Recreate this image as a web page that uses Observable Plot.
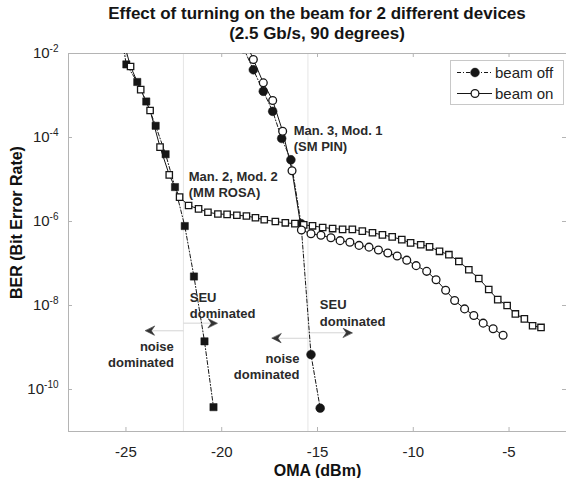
<!DOCTYPE html>
<html>
<head>
<meta charset="utf-8">
<script src="https://cdn.jsdelivr.net/npm/d3@7"></script>
<script src="https://cdn.jsdelivr.net/npm/@observablehq/plot@0.6"></script>
<style>
  html, body { margin: 0; padding: 0; background: #fff; }
  #wrap { position: relative; width: 566px; height: 478px; overflow: hidden; font-family: "Liberation Sans", Arial, sans-serif; }
  #title { height: 44px; box-sizing: border-box; padding: 4px 0 0 68px; text-align: center; font-weight: bold; font-size: 17px; line-height: 20px; color: #151515; white-space: nowrap; }
  #legend { position: absolute; left: 450px; top: 60px; }
</style>
</head>
<body>
<div id="wrap">
  <div id="title">Effect of turning on the beam for 2 different devices<br>(2.5 Gb/s, 90 degrees)</div>
  <div id="chart"></div>
  <svg id="legend" width="114" height="45"></svg>
</div>
<script>
// Axis ticks
const xTicks = [-25, -20, -15, -10, -5];
const yTicks = [1e-2, 1e-4, 1e-6, 1e-8, 1e-10];
const seriesNames = ["beam off", "beam on"];

// Man. 2, Mod. 2 (MM ROSA): OMA (dBm) and BER
const man2OffOMA = [-25.2, -24.98, -24.41, -23.94, -23.45, -22.93, -22.44, -21.93, -21.45, -20.90, -20.43];
const man2OffBER = [2.0e-2, 5.5e-3, 2.1e-3, 7.2e-4, 1.9e-4, 4.0e-5, 6.6e-6, 7.8e-7, 4.9e-8, 1.4e-9, 3.8e-11];

const man2OnOMA = [-25.2, -24.76, -24.23, -23.74, -23.22, -22.74, -22.20, -21.73, -21.21, -20.72, -20.20,
  -19.72, -19.21, -18.71, -18.24, -17.78, -17.20, -16.68, -16.18, -15.72, -15.26,
  -14.73, -14.21, -13.69, -13.18, -12.66, -12.13, -11.61, -11.10, -10.60, -10.14,
  -9.61, -9.15, -8.63, -8.14, -7.62, -7.10, -6.58, -6.06, -5.59, -5.10,
  -4.67, -4.20, -3.77, -3.33];
const man2OnBER = [2.5e-2, 4.9e-3, 1.38e-3, 4.4e-4, 5.9e-5, 1.29e-5, 3.8e-6, 2.4e-6, 2.0e-6, 1.66e-6, 1.51e-6,
  1.48e-6, 1.41e-6, 1.35e-6, 1.23e-6, 1.10e-6, 1.0e-6, 9.3e-7, 8.9e-7, 8.3e-7, 7.9e-7,
  7.2e-7, 6.8e-7, 6.5e-7, 6.5e-7, 5.9e-7, 5.4e-7, 4.8e-7, 4.3e-7, 3.7e-7, 3.1e-7,
  2.8e-7, 2.5e-7, 1.95e-7, 1.62e-7, 1.12e-7, 7.1e-8, 4.4e-8, 2.4e-8, 1.38e-8, 1.0e-8,
  6.3e-9, 4.8e-9, 3.3e-9, 3.0e-9];

// Man. 3, Mod. 1 (SM PIN): OMA (dBm) and BER
const man3OffOMA = [-18.85, -18.35, -17.83, -17.34, -16.87, -16.39, -15.86, -15.34, -14.86];
const man3OffBER = [1.3e-2, 4.1e-3, 1.26e-3, 4.2e-4, 9.5e-5, 2.95e-5, 8.9e-7, 6.8e-10, 3.6e-11];

const man3OnOMA = [-18.85, -18.35, -17.83, -17.34, -16.82, -16.33, -15.84, -15.34, -14.82, -14.30, -13.82,
  -13.31, -12.83, -12.31, -11.82, -11.33, -10.84, -10.34, -9.85, -9.30, -8.81,
  -8.31, -7.84, -7.32, -6.84, -6.35, -5.83, -5.31];
const man3OnBER = [2.5e-2, 7.2e-3, 2.0e-3, 7.6e-4, 1.41e-4, 1.62e-5, 6.3e-7, 5.1e-7, 4.7e-7, 4.1e-7, 3.5e-7,
  3.2e-7, 2.7e-7, 2.45e-7, 2.1e-7, 1.78e-7, 1.51e-7, 1.2e-7, 8.9e-8, 6.5e-8, 4.1e-8,
  2.3e-8, 1.32e-8, 8.3e-9, 5.8e-9, 3.8e-9, 2.8e-9, 1.95e-9];

// Noise / SEU boundaries (OMA, dBm)
const boundaryOMA = [-22, -15.5];

// Text notes
const noteText = ["Man. 3, Mod. 1\n(SM PIN)", "Man. 2, Mod. 2\n(MM ROSA)", "SEU\ndominated", "noise\ndominated", "SEU\ndominated", "noise\ndominated"];
const noteOMA = [-16.24, -21.72, -21.67, -22.50, -14.88, -15.94];
const noteBER = [9.8e-5, 7.9e-6, 1.02e-8, 7.2e-10, 6.9e-9, 3.6e-10];
const noteAnchor = ["start", "start", "start", "end", "start", "end"];

// Arrows pointing away from each boundary
const arrowFrom = [-22, -22, -15.5, -15.5];
const arrowTo = [-23.98, -20.24, -17.37, -13.19];
const arrowBER = [2.5e-9, 3.8e-9, 1.66e-9, 2.24e-9];

const rows = (xs, ys) => xs.map((x, i) => ({x, y: ys[i]}));
const man2Off = rows(man2OffOMA, man2OffBER);
const man2On = rows(man2OnOMA, man2OnBER);
const man3Off = rows(man3OffOMA, man3OffBER);
const man3On = rows(man3OnOMA, man3OnBER);
const notes = noteText.map((t, i) => ({t, x: noteOMA[i], y: noteBER[i], a: noteAnchor[i]}));
const arrows = arrowFrom.map((x1, i) => ({x1, x2: arrowTo[i], y: arrowBER[i]}));

const ink = "#161616";
const dashDot = "4,2,1,2";
const W = 566, H = 434, mL = 68, mR = 0, mT = 9, mB = 47;
const innerW = W - mL - mR, innerH = H - mT - mB;

// filled chevron head drawn pointing up, tip at (0, -l)
const chevron = {
  draw(ctx, l) {
    ctx.moveTo(0, -l);
    ctx.lineTo(-l * 0.5, 0);
    ctx.lineTo(0, -l * 0.35);
    ctx.lineTo(l * 0.5, 0);
    ctx.closePath();
  }
};

const textStyle = {fontWeight: "bold", fontSize: 13, fill: "#2a2a2a", lineHeight: 1.25};

const chart = Plot.plot({
  width: W, height: H,
  marginLeft: mL, marginRight: mR, marginTop: mT, marginBottom: mB,
  style: {fontFamily: "Liberation Sans, Arial, sans-serif", fontSize: "15px", color: "#222", background: "white"},
  x: {domain: [-28, -2], label: null},
  y: {type: "log", domain: [1e-11, 1e-2], label: null},
  marks: [
    Plot.ruleX(boundaryOMA, {stroke: "#e6e6e6", strokeWidth: 1}),
    Plot.frame({stroke: "#b4b4b4"}),
    Plot.tickX(xTicks, {x: d => d, insetTop: innerH - 4, stroke: "#b4b4b4"}),
    Plot.tickX(xTicks, {x: d => d, insetBottom: innerH - 4, stroke: "#b4b4b4"}),
    Plot.tickY(yTicks, {y: d => d, insetRight: innerW - 4, stroke: "#b4b4b4"}),
    Plot.tickY(yTicks, {y: d => d, insetLeft: innerW - 4, stroke: "#b4b4b4"}),
    Plot.axisX({ticks: xTicks, tickSize: 0, tickPadding: 15, tickFormat: d => String(d), fontSize: 15, label: null, fill: "#222"}),
    Plot.axisY({ticks: yTicks, tickSize: 0, tickPadding: 10, tickFormat: d => "10^" + Math.round(Math.log10(d)), fontSize: 15, label: null, fill: "#222"}),
    Plot.text(["OMA (dBm)"], {frameAnchor: "bottom", text: d => d, dy: 39, lineAnchor: "middle", textAnchor: "middle", fontWeight: "bold", fontSize: 16, fill: "#111"}),
    Plot.text(["BER (Bit Error Rate)"], {frameAnchor: "left", text: d => d, rotate: -90, dx: -52, dy: -20, textAnchor: "middle", lineAnchor: "middle", fontWeight: "bold", fontSize: 16, fill: "#111"}),

    // boundary arrows
    Plot.link(arrows, {x1: "x1", x2: "x2", y1: "y", y2: "y", stroke: "#d4d4d4", strokeWidth: 1}),
    Plot.vector(arrows, {x: "x2", y: "y", rotate: d => d.x2 < d.x1 ? -90 : 90, length: 9, anchor: "end", shape: chevron, fill: "#333", stroke: "#333", strokeWidth: 0.6}),

    // curves
    Plot.line(man2Off, {x: "x", y: "y", stroke: ink, strokeWidth: 1, strokeDasharray: dashDot, clip: true}),
    Plot.line(man3Off, {x: "x", y: "y", stroke: ink, strokeWidth: 1, strokeDasharray: dashDot, clip: true}),
    Plot.line(man2On, {x: "x", y: "y", stroke: ink, strokeWidth: 1, clip: true}),
    Plot.line(man3On, {x: "x", y: "y", stroke: ink, strokeWidth: 1, clip: true}),
    Plot.dot(man2Off, {x: "x", y: "y", symbol: "square", r: 4.1, fill: ink, stroke: ink, strokeWidth: 0.5, clip: true}),
    Plot.dot(man3Off, {x: "x", y: "y", symbol: "circle", r: 4.4, fill: ink, stroke: ink, strokeWidth: 0.5, clip: true}),
    Plot.dot(man2On, {x: "x", y: "y", symbol: "square", r: 3.6, fill: "white", stroke: ink, strokeWidth: 1.3, clip: true}),
    Plot.dot(man3On, {x: "x", y: "y", symbol: "circle", r: 3.9, fill: "white", stroke: ink, strokeWidth: 1.3, clip: true}),

    // notes
    Plot.text(notes.filter(d => d.a === "start"), {x: "x", y: "y", text: "t", textAnchor: "start", ...textStyle}),
    Plot.text(notes.filter(d => d.a === "end"), {x: "x", y: "y", text: "t", textAnchor: "end", ...textStyle})
  ]
});

// y tick labels as 10 with a raised exponent
d3.select(chart).selectAll('g[aria-label="y-axis tick label"] text').each(function () {
  const exp = this.textContent.split("^")[1];
  const t = d3.select(this);
  t.text("10");
  t.append("tspan").attr("dy", "-0.6em").attr("font-size", "10px").text(exp);
});

document.getElementById("chart").appendChild(chart);

// legend box
const lg = d3.select("#legend").attr("font-family", "Liberation Sans, Arial, sans-serif");
lg.append("rect").attr("x", 0.5).attr("y", 0.5).attr("width", 113).attr("height", 44)
  .attr("fill", "#fff").attr("stroke", "#c8c8c8");
seriesNames.forEach((name, i) => {
  const cy = i === 0 ? 12.5 : 33.5;
  lg.append("line").attr("x1", 7).attr("x2", 42).attr("y1", cy).attr("y2", cy)
    .attr("stroke", ink).attr("stroke-width", 1)
    .attr("stroke-dasharray", i === 0 ? dashDot : null);
  lg.append("circle").attr("cx", 25).attr("cy", cy).attr("r", i === 0 ? 4.4 : 3.9)
    .attr("fill", i === 0 ? ink : "#fff").attr("stroke", ink).attr("stroke-width", i === 0 ? 0.5 : 1.3);
  lg.append("text").attr("x", 45).attr("y", cy).attr("dy", "0.35em")
    .attr("font-size", 15).attr("fill", "#222").text(name);
});
</script>
</body>
</html>
